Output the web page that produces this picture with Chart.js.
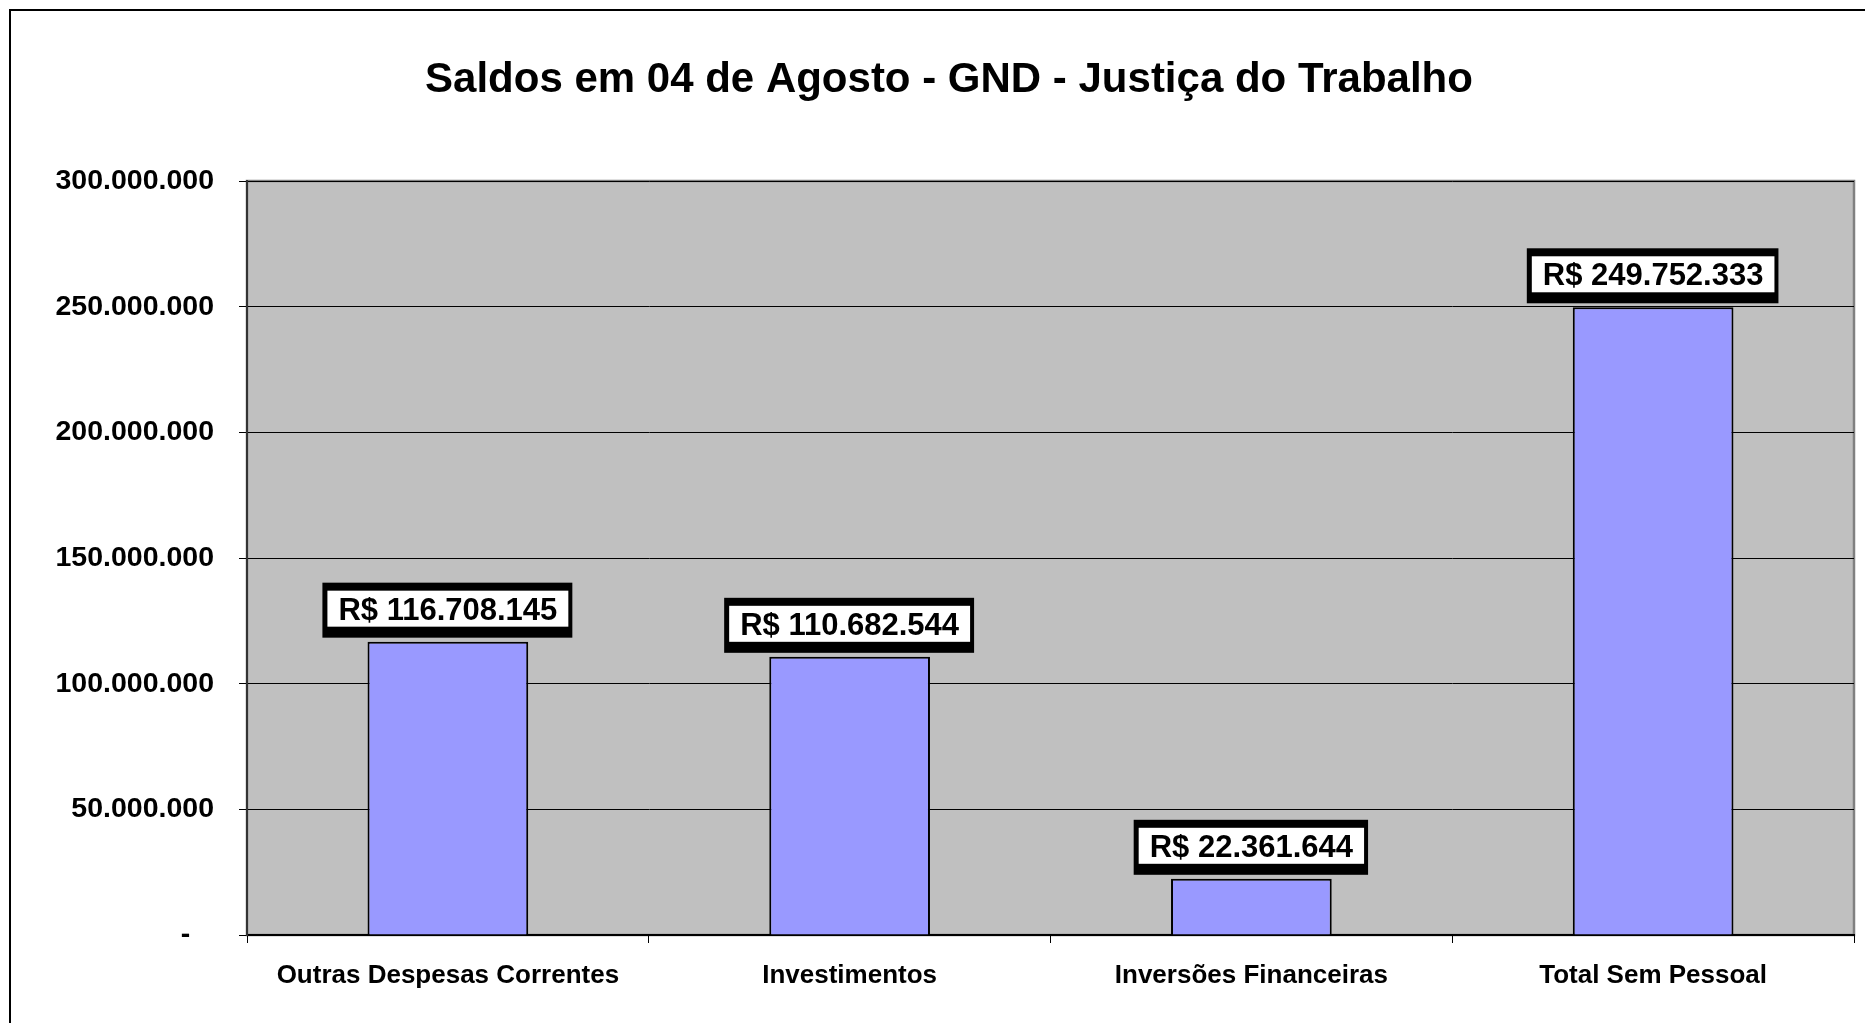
<!DOCTYPE html>
<html>
<head>
<meta charset="utf-8">
<script src="https://cdn.jsdelivr.net/npm/chart.js@4.4.0/dist/chart.umd.min.js"></script>
<style>
html,body{margin:0;padding:0;background:#fff;}
#wrap{width:1865px;height:1023px;position:relative;}
</style>
</head>
<body>
<div id="wrap"><canvas id="c" width="1865" height="1023"></canvas></div>
<script>
const titleText = "Saldos em 04 de Agosto - GND - Justiça do Trabalho";
const categories = ["Outras Despesas Correntes", "Investimentos", "Inversões Financeiras", "Total Sem Pessoal"];
const saldos = [116708145, 110682544, 22361644, 249752333];
const yMin = 0;
const yMax = 300000000;
const yStep = 50000000;

function fmtBR(v) {
  const s = Math.round(v).toString();
  return s.replace(/\B(?=(\d{3})+(?!\d))/g, ".");
}

const FONT = "'Liberation Sans', Arial, Helvetica, sans-serif";

const framePlugin = {
  id: 'frame',
  beforeDraw(chart) {
    const ctx = chart.ctx;
    const a = chart.chartArea;
    ctx.save();
    ctx.fillStyle = '#fff';
    ctx.fillRect(0, 0, chart.width, chart.height);
    ctx.strokeStyle = '#000';
    ctx.lineWidth = 2;
    ctx.beginPath();
    ctx.moveTo(10, chart.height + 5);
    ctx.lineTo(10, 10);
    ctx.lineTo(chart.width + 5, 10);
    ctx.stroke();
    ctx.fillStyle = '#C0C0C0';
    ctx.fillRect(a.left, a.top, a.right - a.left, a.bottom - a.top);
    ctx.strokeStyle = '#808080';
    ctx.lineWidth = 2.5;
    ctx.strokeRect(a.left, a.top, a.right - a.left, a.bottom - a.top);
    ctx.fillStyle = '#000';
    ctx.font = "bold 42px " + FONT;
    ctx.textAlign = 'center';
    ctx.textBaseline = 'alphabetic';
    ctx.fillText(titleText, 949, 92);
    ctx.restore();
  }
};

const labelPlugin = {
  id: 'valueLabels',
  afterDatasetsDraw(chart) {
    const ctx = chart.ctx;
    const meta = chart.getDatasetMeta(0);
    ctx.save();
    ctx.font = "bold 31px " + FONT;
    meta.data.forEach((bar, i) => {
      const txt = "R$ " + fmtBR(saldos[i]);
      const tw = ctx.measureText(txt).width;
      const x = bar.x, y = bar.y;
      const il = x - tw / 2 - 11, ir = x + tw / 2 + 11;
      const it = y - 51, ib = y - 15;
      ctx.fillStyle = '#000';
      ctx.fillRect(il - 5, y - 59, (ir + 4) - (il - 5), 55);
      ctx.fillStyle = '#fff';
      ctx.fillRect(il, it, ir - il, ib - it);
      ctx.fillStyle = '#000';
      ctx.textAlign = 'center';
      ctx.textBaseline = 'alphabetic';
      ctx.fillText(txt, x, y - 22);
    });
    ctx.restore();
  }
};

new Chart(document.getElementById('c'), {
  type: 'bar',
  data: {
    labels: categories,
    datasets: [{
      data: saldos,
      backgroundColor: '#9999FF',
      borderColor: '#000',
      borderWidth: 2,
      barPercentage: 0.4,
      categoryPercentage: 1.0
    }]
  },
  options: {
    responsive: false,
    animation: false,
    devicePixelRatio: 1,
    layout: { padding: { left: 0, right: 11, top: 181, bottom: 0 } },
    plugins: {
      legend: { display: false },
      title: { display: false },
      tooltip: { enabled: false }
    },
    scales: {
      x: {
        offset: true,
        afterFit(scale) { scale.height = 88; },
        grid: { display: true, drawOnChartArea: false, offset: true, color: '#000', lineWidth: 1, tickLength: 8, tickColor: '#000' },
        border: { display: true, color: '#000', width: 2 },
        ticks: { color: '#000', font: { family: FONT, size: 26, weight: 'bold' }, padding: 17, maxRotation: 0, autoSkip: false }
      },
      y: {
        min: yMin,
        max: yMax,
        afterFit(scale) { scale.width = 247; },
        grid: { display: true, drawOnChartArea: true, color: '#000', lineWidth: 1, tickLength: 8, tickColor: '#000' },
        border: { display: true, color: '#333', width: 2 },
        ticks: {
          stepSize: yStep,
          color: '#000',
          padding: 25,
          font: { family: FONT, size: 28.5, weight: 'bold' },
          callback(v) { return v === 0 ? "-   " : fmtBR(v); }
        }
      }
    }
  },
  plugins: [framePlugin, labelPlugin]
});
</script>
</body>
</html>
